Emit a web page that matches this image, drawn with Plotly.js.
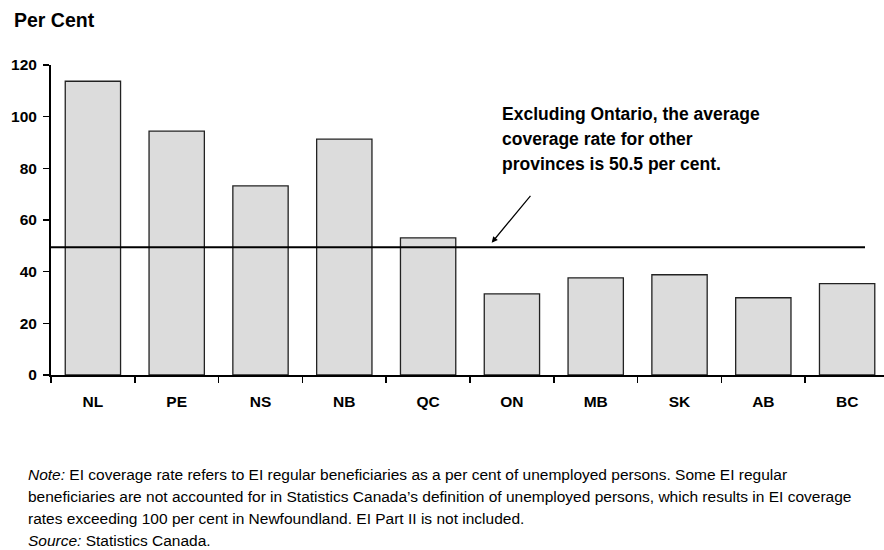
<!DOCTYPE html>
<html>
<head>
<meta charset="utf-8">
<script src="https://cdn.plot.ly/plotly-3.0.1.min.js"></script>
<style>html,body{margin:0;padding:0;background:#fff;}#chart{width:884px;height:550px;}</style>
</head>
<body>
<div id="chart"></div>
<script>
// Data
const provinces = ["NL", "PE", "NS", "NB", "QC", "ON", "MB", "SK", "AB", "BC"];
const coverageRates = [113.7, 94.4, 73.2, 91.3, 53.1, 31.4, 37.6, 38.8, 29.9, 35.4];
const averageExclOntario = 49.5;
const yTickValues = [0, 20, 40, 60, 80, 100, 120];
const calloutLines = [
  'Excluding Ontario, the average',
  'coverage rate for other',
  'provinces is 50.5 per cent.'
];
const noteLines = [
  '<i>Note:</i> EI coverage rate refers to EI regular beneficiaries as a per cent of unemployed persons. Some EI regular',
  'beneficiaries are not accounted for in Statistics Canada\u2019s definition of unemployed persons, which results in EI coverage',
  'rates exceeding 100 per cent in Newfoundland. EI Part II is not included.',
  '<i>Source:</i> Statistics Canada.'
];

const FONT = '"Liberation Sans Narrow", "Arial Narrow", "Liberation Sans", Arial, sans-serif';
const L = 51, W = 833, T = 65, H = 310;
const px = x => (x - L) / W;
const py = y => (T + H - y) / H;

const trace = {
  type: 'bar',
  x: provinces,
  y: coverageRates,
  width: 0.66,
  marker: {color: '#dcdcdc', line: {color: '#222', width: 1.3}},
  hoverinfo: 'x+y'
};

const annotations = [
  {xref: 'paper', yref: 'paper', x: px(12), y: py(19.5), xanchor: 'left', yanchor: 'middle',
   text: 'Per Cent', showarrow: false, font: {family: FONT, size: 19.5, color: '#000', weight: 'bold'}},
  {xref: 'paper', yref: 'paper', x: px(491.7), y: py(242.7), text: '', showarrow: true,
   ax: 40, ay: -48.4, arrowhead: 2, arrowsize: 1, arrowwidth: 1.2, arrowcolor: '#000'}
];
const calloutTops = [101.8, 126.8, 151.8];
calloutLines.forEach((t, i) => {
  annotations.push({xref: 'paper', yref: 'paper', x: px(500), y: py(calloutTops[i]), xanchor: 'left', yanchor: 'top',
    align: 'left', text: t, showarrow: false, font: {family: FONT, size: 17.5, color: '#000', weight: 'bold'}});
});
const noteBaselines = [481, 503, 525, 547];
noteLines.forEach((t, i) => {
  annotations.push({xref: 'paper', yref: 'paper', x: px(26), y: py(noteBaselines[i] + 4), xanchor: 'left', yanchor: 'bottom',
    align: 'left', text: t, showarrow: false, font: {family: FONT, size: 15.5, color: '#000'}});
});

const layout = {
  width: 884, height: 550,
  margin: {l: L, r: 884 - L - W, t: T, b: 550 - T - H, pad: 0},
  paper_bgcolor: '#fff', plot_bgcolor: '#fff',
  showlegend: false,
  font: {family: FONT, color: '#000'},
  xaxis: {
    type: 'category', range: [-0.5, 9.44], showgrid: false, zeroline: false,
    showline: true, linecolor: '#000', linewidth: 2,
    ticks: 'outside', tickson: 'boundaries', ticklen: 6, tickwidth: 1.5, tickcolor: '#000',
    ticklabelstandoff: 11,
    tickfont: {family: FONT, size: 15.5, color: '#000', weight: 'bold'}
  },
  yaxis: {
    range: [0, 120], tickvals: yTickValues, showgrid: false, zeroline: false,
    showline: true, linecolor: '#000', linewidth: 2,
    ticks: 'outside', ticklen: 6, tickwidth: 1.5, tickcolor: '#000',
    ticklabelstandoff: 3,
    tickfont: {family: FONT, size: 15.5, color: '#000', weight: 'bold'}
  },
  shapes: [
    {type: 'line', xref: 'paper', yref: 'y', x0: 0, x1: px(865), y0: averageExclOntario, y1: averageExclOntario,
     line: {color: '#000', width: 2}, layer: 'above'}
  ],
  annotations: annotations
};

Plotly.newPlot('chart', [trace], layout, {displayModeBar: false, staticPlot: true});
</script>
</body>
</html>
